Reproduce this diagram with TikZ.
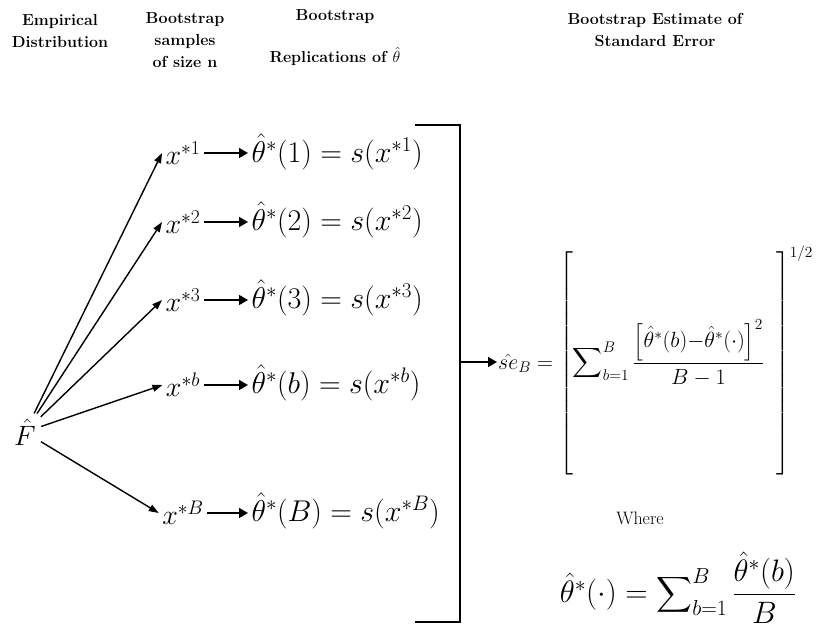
\RequirePackage{fix-cm}
\documentclass[tikz,border=0pt]{standalone}
\usepackage{amsmath}
\usetikzlibrary{arrows.meta}

\tikzset{
  hdr/.style={font=\fontsize{16}{22}\selectfont\bfseries, align=center},
  samp/.style={font=\fontsize{28}{32}\selectfont},
  repl/.style={font=\fontsize{30}{36}\selectfont, anchor=west},
  link/.style={line width=1.6pt, -{Triangle[length=9pt,width=10pt]}},
  fan/.style={line width=1.4pt, -{Triangle[length=10pt,width=7pt]}},
}

\begin{document}
\begin{tikzpicture}[x=1pt,y=-1pt]
    \useasboundingbox (0,0) rectangle (820,640);
    % column headings
    \node[hdr] (hEmp) at (60,31) {Empirical\\Distribution};
    \node[hdr] (hSamp) at (185,40) {Bootstrap\\samples\\of size n};
    \node[hdr] (hRep) at (335,38) {Bootstrap\\[20pt]Replications of $\hat{\theta}$};
    \node[hdr] (hSE) at (655,30) {Bootstrap Estimate of\\Standard Error};

    % empirical distribution
    \node[samp] (F) at (25,432) {$\hat{F}$};

    % bootstrap samples
    \node[samp] (x1) at (183,153) {$x^{*1}$};
    \node[samp] (x2) at (183,222) {$x^{*2}$};
    \node[samp] (x3) at (183,300) {$x^{*3}$};
    \node[samp] (xb) at (183,385) {$x^{*b}$};
    \node[samp] (xB) at (183,513) {$x^{*B}$};

    % replications
    \node[repl] (t1) at (248,152) {$\hat{\theta}^*(1)=s(x^{*1})$};
    \node[repl] (t2) at (248,220) {$\hat{\theta}^*(2)=s(x^{*2})$};
    \node[repl] (t3) at (248,298) {$\hat{\theta}^*(3)=s(x^{*3})$};
    \node[repl] (tb) at (248,383) {$\hat{\theta}^*(b)=s(x^{*b})$};
    \node[repl] (tB) at (248,511) {$\hat{\theta}^*(B)=s(x^{*B})$};

    \foreach \k in {1,2,3,b,B} {
        \draw[fan, shorten <=2pt] (F) -- (x\k.west);
        \draw[link] (x\k.east) -- (t\k.west |- x\k.east);
    }

    % closing bracket and arrow to the estimate
    \draw[line width=2.5pt] (415,125) -- (460,125) -- (460,622) -- (415,622);
    \coordinate (brk) at (460,362);

    \node[anchor=base west, inner xsep=1pt, font=\fontsize{22}{26}\selectfont] (seB) at (497,369)
        {$\hat{se}_B=\left[\displaystyle\sum\nolimits_{b=1}^{B}\dfrac{\left[\hat{\theta}^*(b){-}\hat{\theta}^*(\cdot)\right]^2}{B-1}\hspace{12pt}\vrule height 0pt depth 103pt width 0pt\right]^{1/2}$};
    \draw[link] (brk) -- (brk -| seB.west);

    \node[font=\fontsize{18}{22}\selectfont] (where) at (640,518) {Where};
    \node[font=\fontsize{31}{36}\selectfont] (mean) at (678,588)
        {$\hat{\theta}^*(\cdot)=\displaystyle\sum\nolimits_{b=1}^{B}\dfrac{\hat{\theta}^*(b)}{B}$};
\end{tikzpicture}
\end{document}
